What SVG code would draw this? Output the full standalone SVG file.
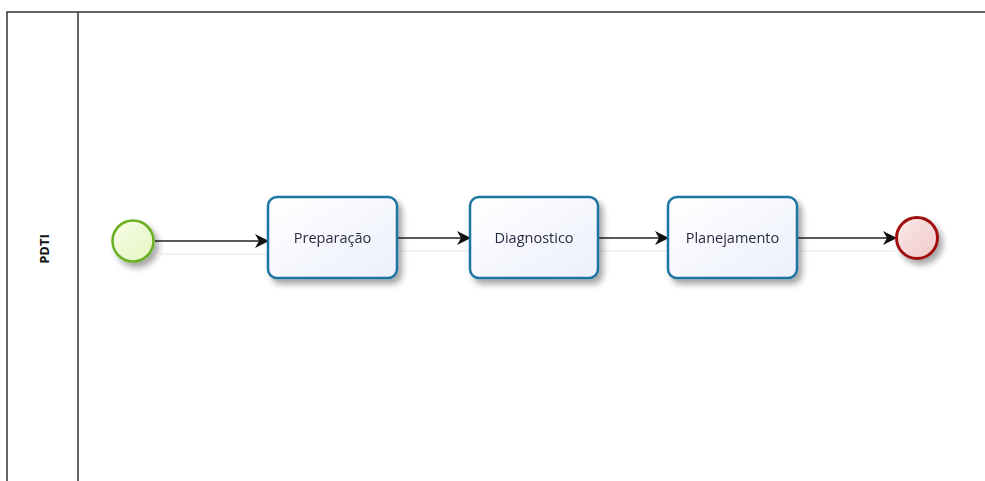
<svg xmlns="http://www.w3.org/2000/svg" width="985" height="481" viewBox="0 0 985 481">
<defs>
<filter id="sh" x="-30%" y="-30%" width="160%" height="160%">
<feGaussianBlur in="SourceAlpha" stdDeviation="3"/>
<feOffset dx="4" dy="5" result="b"/>
<feComponentTransfer><feFuncA type="linear" slope="0.35"/></feComponentTransfer>
<feMerge><feMergeNode/><feMergeNode in="SourceGraphic"/></feMerge>
</filter>
<linearGradient id="gs" x1="0" y1="0" x2="1" y2="1"><stop offset="0" stop-color="#f8fde8"/><stop offset="1" stop-color="#e4f5c0"/></linearGradient>
<linearGradient id="ge" x1="0" y1="0" x2="1" y2="1"><stop offset="0" stop-color="#fbe9e9"/><stop offset="1" stop-color="#f0c9c9"/></linearGradient>
<linearGradient id="gt" x1="0" y1="0" x2="1" y2="1"><stop offset="0" stop-color="#ffffff"/><stop offset="1" stop-color="#edf0fc"/></linearGradient>
<marker id="arr" markerWidth="14" markerHeight="14" refX="13" refY="7" orient="auto" markerUnits="userSpaceOnUse">
<path d="M0,0 L14,7 L0,14 L4,7 Z" fill="#111"/>
</marker>
<style>
.pool{fill:none;stroke:#333;stroke-width:1.5}
.task{fill:url(#gt);stroke:#1f75a0;stroke-width:2.5}
.lbl{font-family:"Open Sans","Noto Sans",sans-serif;font-size:14.5px;fill:#2a2a40;text-anchor:middle;dominant-baseline:central}
.flow{stroke:#222;stroke-width:1.3;fill:none;marker-end:url(#arr)}
.fsh{stroke:#eeeeee;stroke-width:1.5;fill:none}
</style>
</defs>
<g id="pool">
<path class="pool" d="M7,481 V12 H985"/>
<line class="pool" x1="78" y1="12" x2="78" y2="481"/>
<text x="44" y="249" transform="rotate(-90 44 249)" style="font-family:'Open Sans','Noto Sans',sans-serif;font-size:13px;font-weight:bold;fill:#111;text-anchor:middle;dominant-baseline:central">PDTI</text>
</g>
<g id="connectors">
<line class="fsh" x1="160" y1="254" x2="270" y2="254"/>
<line class="fsh" x1="400" y1="251" x2="472" y2="251"/>
<line class="fsh" x1="600" y1="251" x2="670" y2="251"/>
<line class="fsh" x1="800" y1="251" x2="895" y2="251"/>
<line class="flow" x1="155" y1="241" x2="268" y2="241"/>
<line class="flow" x1="397" y1="238" x2="470" y2="238"/>
<line class="flow" x1="598" y1="238" x2="668" y2="238"/>
<line class="flow" x1="797" y1="238" x2="896" y2="238"/>
</g>
<g id="start" filter="url(#sh)">
<circle cx="133" cy="241" r="20.5" fill="url(#gs)" stroke="#6ab023" stroke-width="2.5"/>
</g>
<g id="preparacao" filter="url(#sh)">
<rect class="task" x="268" y="197" width="129" height="81" rx="9"/>
<text class="lbl" x="332.5" y="237.5">Preparação</text>
</g>
<g id="diagnostico" filter="url(#sh)">
<rect class="task" x="470" y="197" width="128" height="81" rx="9"/>
<text class="lbl" x="534" y="237.5">Diagnostico</text>
</g>
<g id="planejamento" filter="url(#sh)">
<rect class="task" x="668" y="197" width="129" height="81" rx="9"/>
<text class="lbl" x="732.5" y="237.5">Planejamento</text>
</g>
<g id="end" filter="url(#sh)">
<circle cx="917" cy="238" r="20.5" fill="url(#ge)" stroke="#a01010" stroke-width="3"/>
</g>
</svg>
